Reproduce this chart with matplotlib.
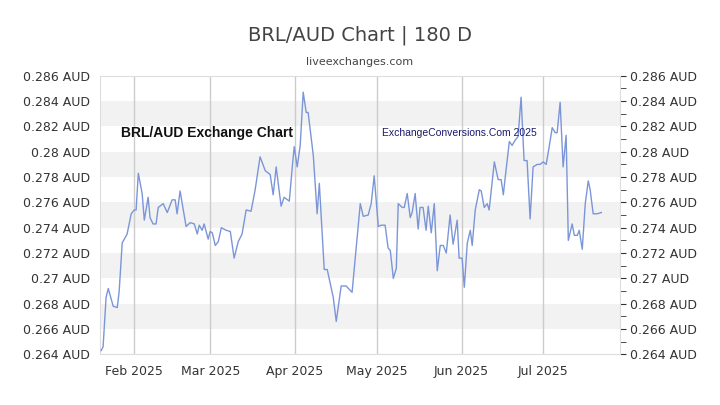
import datetime as dt

import matplotlib

matplotlib.use("Agg")
import matplotlib.pyplot as plt
from matplotlib.ticker import FuncFormatter, MultipleLocator

START = dt.datetime(2025, 1, 20)

# days since START
days = [0, 0.7, 1.8, 2.6, 4.4, 5.9, 6.6, 7.7, 9.5, 11.0, 12.1, 12.8, 13.6, 15.0, 15.8,
        17.2, 17.9, 19.0, 20.1, 20.9, 22.7, 24.2, 26.0, 27.1, 27.8, 28.9, 29.7, 31.1,
        32.6, 34.1, 35.2, 35.9, 37.0, 37.7, 39.2, 39.9, 40.7, 41.8, 42.9, 44.0, 45.8,
        47.3, 48.7, 50.2, 51.6, 53.1, 54.9, 56.4, 58.2, 60.1, 61.9, 63.0, 64.1, 65.9,
        67.0, 68.9, 70.0, 70.7, 71.8, 72.9, 74.0, 75.1, 75.8, 77.7, 79.1, 79.9, 81.7,
        82.8, 85.0, 86.1, 87.9, 89.7, 91.9, 94.9, 96.0, 97.8, 98.9, 100.0, 101.5, 102.6,
        104.0, 105.1, 105.9, 107.0, 108.1, 108.8, 110.3, 111.0, 112.1, 113.2, 113.9,
        115.0, 116.1, 116.8, 117.9, 119.0, 119.8, 120.9, 122.0, 123.1, 124.2, 125.3,
        126.4, 127.8, 128.9, 130.4, 131.1, 132.2, 133.0, 134.1, 135.2, 135.9, 137.0,
        138.5, 139.2, 140.3, 141.4, 142.1, 144.0, 145.4, 146.5, 147.3, 148.0, 149.5,
        150.5, 151.6, 152.7, 153.8, 154.9, 156.0, 157.1, 158.2, 159.7, 160.8, 161.9,
        163.0, 164.1, 165.2, 166.3, 167.0, 168.1, 169.2, 170.3, 171.1, 172.5, 173.3,
        174.4, 175.1, 176.2, 177.3, 178.4, 179.1, 180.2, 181.7, 183.2]
rates = [0.2643, 0.2646, 0.2685, 0.2692, 0.2678, 0.2677, 0.2690, 0.2728, 0.2735, 0.2751,
         0.2754, 0.2754, 0.2783, 0.2767, 0.2746, 0.2764, 0.2748, 0.2743, 0.2743, 0.2756,
         0.2759, 0.2752, 0.2762, 0.2762, 0.2751, 0.2769, 0.2759, 0.2741, 0.2744, 0.2743,
         0.2735, 0.2742, 0.2738, 0.2743, 0.2731, 0.2737, 0.2736, 0.2726, 0.2729, 0.2740,
         0.2738, 0.2737, 0.2716, 0.2729, 0.2735, 0.2754, 0.2753, 0.2770, 0.2796, 0.2785,
         0.2782, 0.2766, 0.2788, 0.2757, 0.2764, 0.2761, 0.2788, 0.2804, 0.2788, 0.2805,
         0.2847, 0.2831, 0.2831, 0.2797, 0.2751, 0.2775, 0.2707, 0.2707, 0.2685, 0.2666,
         0.2694, 0.2694, 0.2689, 0.2759, 0.2749, 0.2750, 0.2759, 0.2781, 0.2741, 0.2742,
         0.2742, 0.2724, 0.2722, 0.2700, 0.2708, 0.2759, 0.2756, 0.2756, 0.2767, 0.2748,
         0.2752, 0.2767, 0.2739, 0.2756, 0.2756, 0.2738, 0.2757, 0.2736, 0.2759, 0.2706,
         0.2726, 0.2726, 0.2720, 0.2750, 0.2727, 0.2746, 0.2716, 0.2716, 0.2693, 0.2728,
         0.2738, 0.2726, 0.2754, 0.2770, 0.2769, 0.2756, 0.2759, 0.2754, 0.2792, 0.2778,
         0.2778, 0.2766, 0.2780, 0.2808, 0.2805, 0.2809, 0.2812, 0.2843, 0.2793, 0.2793,
         0.2747, 0.2788, 0.2790, 0.2790, 0.2792, 0.2790, 0.2804, 0.2819, 0.2815, 0.2815,
         0.2839, 0.2788, 0.2813, 0.2730, 0.2743, 0.2734, 0.2734, 0.2738, 0.2723, 0.2759,
         0.2777, 0.2770, 0.2751, 0.2751, 0.2752]

months = [dt.datetime(2025, m, 1) for m in range(2, 8)]
month_labels = ["Feb 2025", "Mar 2025", "Apr 2025", "May 2025", "Jun 2025", "Jul 2025"]

dates = [START + dt.timedelta(days=d) for d in days]

fig = plt.figure(figsize=(7.2, 4.05), dpi=100)
ax = fig.add_axes([0.139, 0.125, 0.722, 0.688])

ax.set_xlim(START - dt.timedelta(days=0.4), START + dt.timedelta(days=190))
ax.set_ylim(0.264, 0.286)

# alternating grey bands
for lo in [0.266, 0.270, 0.274, 0.278, 0.282]:
    ax.axhspan(lo, lo + 0.002, color="#f2f2f2", lw=0, zorder=0)
for m in months:
    ax.axvline(m, color="#cccccc", lw=1, zorder=1)

ax.plot(dates, rates, color="#7b96d8", lw=1, zorder=3)

fmt = FuncFormatter(lambda v, p: f"{round(v, 3):g} AUD")
ax.yaxis.set_major_locator(MultipleLocator(0.002))
ax.yaxis.set_minor_locator(MultipleLocator(0.001))
ax.yaxis.set_major_formatter(fmt)
ax.tick_params(axis="y", which="both", labelleft=True, labelright=True,
               left=False, right=True, labelsize=9, colors="#333333", length=4)
ax.set_xticks(months)
ax.set_xticklabels(month_labels, fontsize=9, color="#333333")
ax.tick_params(axis="x", length=0, pad=8)
for s in ax.spines.values():
    s.set_color("#dddddd")

fig.text(0.5, 0.9, "BRL/AUD Chart | 180 D", ha="center", fontsize=14, color="#444444")
fig.text(0.5, 0.84, "liveexchanges.com", ha="center", fontsize=8, color="#444444")
ax.text(0.04, 0.795, "BRL/AUD Exchange Chart", transform=ax.transAxes, fontsize=10,
        fontweight="bold", family="Liberation Sans", color="#111111", va="center")
ax.text(0.543, 0.795, "ExchangeConversions.Com 2025", transform=ax.transAxes, fontsize=7.5,
        family="Liberation Sans", color="#1a1a6e", va="center")

plt.savefig("out.png", dpi=100)
